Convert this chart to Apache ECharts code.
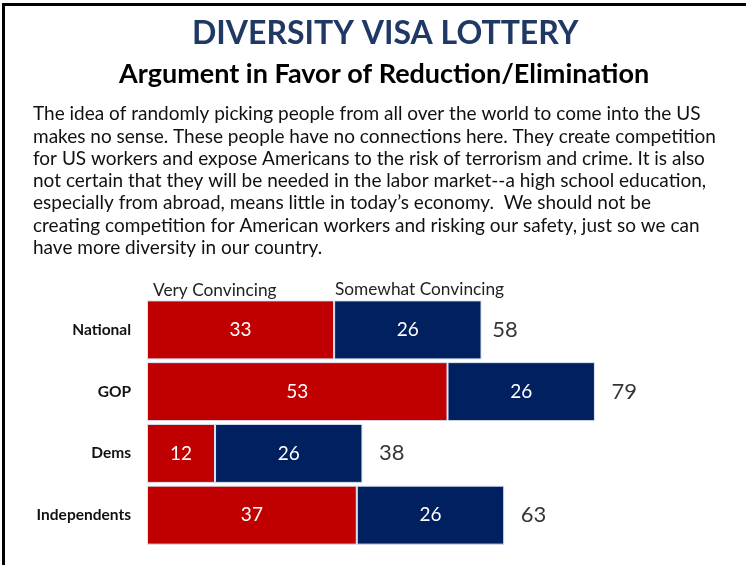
<!DOCTYPE html>
<html>
<head>
<meta charset="utf-8">
<script src="https://cdn.jsdelivr.net/npm/echarts@6/dist/echarts.min.js"></script>
<style>
  html, body { margin: 0; padding: 0; background: #fff; }
  #chart { width: 746px; height: 565px; }
</style>
</head>
<body>
<div id="chart"></div>
<script>
// groups, top to bottom
const groups = ['National', 'GOP', 'Dems', 'Independents'];
const veryConvincing = [33, 53, 12, 37];
const somewhatConvincing = [26, 26, 26, 26];
const totals = [58, 79, 38, 63];

const seriesNames = ['Very Convincing', 'Somewhat Convincing'];

const bodyText = [
    'The idea of randomly picking people from all over the world to come into the US',
    'makes no sense. These people have no connections here. They create competition',
    'for US workers and expose Americans to the risk of terrorism and crime. It is also',
    'not certain that they will be needed in the labor market--a high school education,',
    'especially from abroad, means little in today\u2019s economy.  We should not be',
    'creating competition for American workers and risking our safety, just so we can',
    'have more diversity in our country.'
].join('\n');

const RED = '#C00000';
const NAVY = '#002060';
const FONT = 'Lato, "Open Sans", sans-serif';

const chart = echarts.init(document.getElementById('chart'));

const segLabel = {
    show: true,
    position: 'inside',
    color: '#fff',
    fontFamily: FONT,
    fontSize: 19
};

chart.setOption({
    backgroundColor: '#fff',
    animation: false,
    title: [
        {
            text: 'DIVERSITY VISA LOTTERY',
            left: 187,
            top: 13,
            textStyle: { fontFamily: FONT, fontSize: 32, fontWeight: 'bold', color: '#1F3864' }
        },
        {
            text: 'Argument in Favor of Reduction/Elimination',
            left: 114,
            top: 56,
            textStyle: { fontFamily: FONT, fontSize: 27, fontWeight: 'bold', color: '#000' }
        },
        {
            text: bodyText,
            left: 28,
            top: 98,
            textStyle: { fontFamily: FONT, fontSize: 19, fontWeight: 'normal', color: '#111', lineHeight: 22.3 }
        }
    ],
    legend: [
        {
            data: [seriesNames[0]],
            left: 143,
            top: 277,
            icon: 'none',
            itemWidth: 0,
            selectedMode: false,
            textStyle: { fontFamily: FONT, fontSize: 17.3, color: '#222' }
        },
        {
            data: [seriesNames[1]],
            left: 325,
            top: 276,
            icon: 'none',
            itemWidth: 0,
            selectedMode: false,
            textStyle: { fontFamily: FONT, fontSize: 17.3, color: '#222' }
        }
    ],
    grid: {
        left: 147,
        right: 32,
        top: 299,
        bottom: 19
    },
    xAxis: {
        type: 'value',
        min: 0,
        max: 100,
        show: false
    },
    yAxis: {
        type: 'category',
        data: groups,
        inverse: true,
        axisLine: { show: false },
        axisTick: { show: false },
        splitLine: { show: false },
        axisLabel: {
            margin: 16,
            fontFamily: FONT,
            fontSize: 15.5,
            fontWeight: 'bold',
            color: '#111'
        }
    },
    series: [
        {
            name: seriesNames[0],
            type: 'bar',
            stack: 'total',
            barWidth: 59,
            data: veryConvincing,
            itemStyle: { color: RED, borderColor: '#dae3f3', borderWidth: 1 },
            label: segLabel
        },
        {
            name: seriesNames[1],
            type: 'bar',
            stack: 'total',
            barWidth: 59,
            data: somewhatConvincing,
            itemStyle: { color: NAVY, borderColor: '#dae3f3', borderWidth: 1 },
            label: segLabel
        },
        {
            name: 'Total',
            type: 'scatter',
            data: totals.map((v, i) => [v, groups[i]]),
            symbolSize: 1,
            itemStyle: { color: 'rgba(0,0,0,0)' },
            label: {
                show: true,
                position: 'right',
                distance: 16,
                formatter: p => p.value[0],
                fontFamily: FONT,
                fontSize: 22,
                color: '#000'
            }
        }
    ],
    graphic: [
        { type: 'rect', shape: { x: 2, y: 3, width: 744, height: 3 }, style: { fill: '#000' } },
        { type: 'rect', shape: { x: 2, y: 3, width: 3, height: 562 }, style: { fill: '#000' } }
    ]
});
</script>
</body>
</html>
